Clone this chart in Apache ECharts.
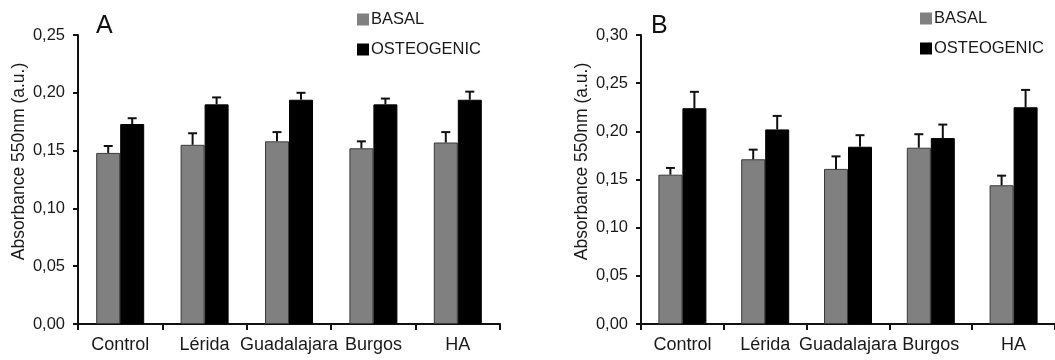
<!DOCTYPE html>
<html>
<head>
<meta charset="utf-8">
<script src="https://cdn.jsdelivr.net/npm/echarts@6/dist/echarts.min.js"></script>
<style>
  html, body { margin: 0; padding: 0; background: #fff; }
  #myChart { width: 1055px; height: 360px; }
</style>
</head>
<body>
<div id="myChart"></div>
<script>
// groups on the x axis
const groups = ['Control', 'Lérida', 'Guadalajara', 'Burgos', 'HA'];
const seriesNames = ['BASAL', 'OSTEOGENIC'];

// panel A
const basalA = [0.148, 0.155, 0.158, 0.152, 0.157];
const basalErrA = [0.006, 0.010, 0.008, 0.006, 0.009];
const osteoA = [0.173, 0.190, 0.194, 0.190, 0.194];
const osteoErrA = [0.005, 0.006, 0.006, 0.005, 0.007];

// panel B
const basalB = [0.155, 0.171, 0.161, 0.183, 0.144];
const basalErrB = [0.007, 0.010, 0.013, 0.014, 0.010];
const osteoB = [0.224, 0.202, 0.184, 0.193, 0.225];
const osteoErrB = [0.017, 0.014, 0.012, 0.014, 0.018];

const FONT = '"Liberation Sans", Arial, sans-serif';
const BAR_W = 24;

// upward error bar with a cap, shifted onto the matching bar
function errorSeries(name, means, errs, idx, side) {
  return {
    name: name,
    type: 'custom',
    xAxisIndex: idx,
    yAxisIndex: idx,
    z: 5,
    data: means.map((m, i) => [i, m, m + errs[i]]),
    renderItem: function (params, api) {
      const base = api.coord([api.value(0), api.value(1)]);
      const top = api.coord([api.value(0), api.value(2)]);
      const x = base[0] + side * BAR_W / 2;
      return {
        type: 'group',
        children: [
          { type: 'line', shape: { x1: x, y1: base[1], x2: x, y2: top[1] }, style: { stroke: '#111', lineWidth: 2 } },
          { type: 'line', shape: { x1: x - 4.5, y1: top[1], x2: x + 4.5, y2: top[1] }, style: { stroke: '#111', lineWidth: 2 } }
        ]
      };
    }
  };
}

function barSeries(name, values, idx, color, border) {
  return {
    name: name,
    type: 'bar',
    xAxisIndex: idx,
    yAxisIndex: idx,
    barWidth: BAR_W,
    barGap: '0%',
    data: values,
    itemStyle: { color: color, borderColor: border, borderWidth: 1 }
  };
}

function xAxisFor(idx) {
  return {
    type: 'category',
    gridIndex: idx,
    data: groups,
    axisLine: { lineStyle: { color: '#111', width: 2 } },
    axisTick: { show: true, length: 6, lineStyle: { color: '#111', width: 2 } },
    axisLabel: { color: '#1a1a1a', fontSize: 18, fontFamily: FONT, margin: 12, interval: 0 }
  };
}

function yAxisFor(idx, max) {
  return {
    type: 'value',
    gridIndex: idx,
    min: 0,
    max: max,
    interval: 0.05,
    name: 'Absorbance 550nm (a.u.)',
    nameLocation: 'middle',
    nameGap: 50,
    nameTextStyle: { color: '#1a1a1a', fontSize: 17.5, fontFamily: FONT, padding: [0, 0, 0, 36] },
    splitLine: { show: false },
    axisLine: { show: true, lineStyle: { color: '#111', width: 2 } },
    axisTick: { show: true, length: 5, lineStyle: { color: '#111', width: 2 } },
    axisLabel: {
      color: '#1a1a1a', fontSize: 16.5, fontFamily: FONT, margin: 13,
      formatter: v => v.toFixed(2).replace('.', ',')
    }
  };
}

function legendAt(left, top) {
  return {
    orient: 'vertical',
    left: left,
    top: top,
    padding: 0,
    itemWidth: 12,
    itemHeight: 12,
    itemGap: 13,
    icon: 'rect',
    data: seriesNames,
    itemStyle: { borderWidth: 0 },
    textStyle: { color: '#1a1a1a', fontSize: 16.5, fontFamily: FONT, padding: [0, 0, 0, -3] }
  };
}

const myChart = echarts.init(document.getElementById('myChart'));
myChart.setOption({
  animation: false,
  title: [
    { text: 'A', left: 91, top: 9, textStyle: { fontSize: 25, fontWeight: 'normal', color: '#111', fontFamily: FONT } },
    { text: 'B', left: 646, top: 9, textStyle: { fontSize: 25, fontWeight: 'normal', color: '#111', fontFamily: FONT } }
  ],
  legend: [legendAt(357, 11), legendAt(920, 10)],
  grid: [
    { left: 78, top: 35, width: 422, height: 289 },
    { left: 641, top: 35, width: 417, height: 289 }
  ],
  xAxis: [xAxisFor(0), xAxisFor(1)],
  yAxis: [yAxisFor(0, 0.25), yAxisFor(1, 0.30)],
  series: [
    barSeries('BASAL', basalA, 0, '#808080', '#3a3a3a'),
    barSeries('OSTEOGENIC', osteoA, 0, '#000', '#000'),
    errorSeries('BASAL', basalA, basalErrA, 0, -1),
    errorSeries('OSTEOGENIC', osteoA, osteoErrA, 0, 1),
    barSeries('BASAL', basalB, 1, '#808080', '#3a3a3a'),
    barSeries('OSTEOGENIC', osteoB, 1, '#000', '#000'),
    errorSeries('BASAL', basalB, basalErrB, 1, -1),
    errorSeries('OSTEOGENIC', osteoB, osteoErrB, 1, 1)
  ]
});
</script>
</body>
</html>
